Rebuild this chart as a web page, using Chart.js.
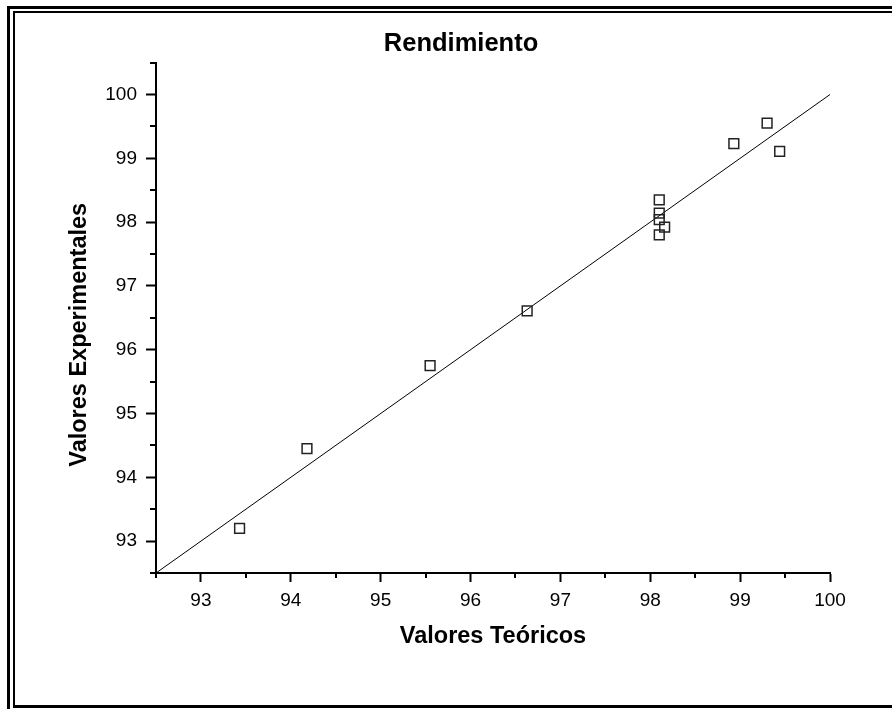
<!DOCTYPE html>
<html>
<head>
<meta charset="utf-8">
<script src="https://cdn.jsdelivr.net/npm/chart.js@4.4.1/dist/chart.umd.min.js"></script>
<style>
html,body{margin:0;padding:0;background:#fff;overflow:hidden;width:892px;height:709px;}
#wrap{position:relative;width:892px;height:709px;overflow:hidden;background:#fff;}
.f1{position:absolute;left:7px;top:6px;width:1200px;height:1200px;border-left:3px solid #000;border-top:3px solid #000;box-sizing:border-box;}
.f2{position:absolute;left:13px;top:11px;width:1200px;height:697px;border-left:2px solid #000;border-top:2px solid #000;border-bottom:3px solid #000;box-sizing:border-box;}
#c{position:absolute;left:0;top:0;}
</style>
</head>
<body>
<div id="wrap">
  <div class="f1"></div>
  <div class="f2"></div>
  <canvas id="c" width="892" height="709"></canvas>
</div>
<script>
// ---- data ----
const teoricos       = [93.43, 94.18, 95.55, 96.63, 98.10, 98.10, 98.10, 98.16, 98.10, 98.93, 99.30, 99.44];
const experimentales = [93.20, 94.45, 95.75, 96.61, 98.35, 98.14, 98.04, 97.92, 97.80, 99.23, 99.55, 99.11];
const lineaX = [92.5, 100];
const lineaY = [92.5, 100];
const xTicks = [93, 94, 95, 96, 97, 98, 99, 100];
const yTicks = [93, 94, 95, 96, 97, 98, 99, 100];
const xMinor = [92.5, 93.5, 94.5, 95.5, 96.5, 97.5, 98.5, 99.5];
const yMinor = [92.5, 93.5, 94.5, 95.5, 96.5, 97.5, 98.5, 99.5, 100.5];

const FONT = "'Liberation Sans', Arial, Helvetica, sans-serif";
const yTitleShift = 17;

const minorTicks = {
  id: 'minorTicks',
  afterDraw(chart) {
    const {ctx, scales} = chart;
    const x = scales.x, y = scales.y;
    ctx.save();
    ctx.strokeStyle = '#000';
    ctx.lineWidth = 2;
    ctx.beginPath();
    xMinor.forEach(v => {
      const px = Math.round(x.getPixelForValue(v));
      ctx.moveTo(px, x.top);
      ctx.lineTo(px, x.top + 5);
    });
    yMinor.forEach(v => {
      const py = Math.round(y.getPixelForValue(v));
      ctx.moveTo(y.right, py);
      ctx.lineTo(y.right - 6, py);
    });
    ctx.stroke();
    ctx.restore();
  }
};

const shiftYTitle = {
  id: 'shiftYTitle',
  afterLayout(chart) {
    const s = chart.scales.y;
    if (s && !s._shiftWrapped) {
      const orig = s.drawTitle;
      s.drawTitle = function (...a) {
        const c = this.ctx;
        c.save();
        c.translate(0, yTitleShift);
        orig.apply(this, a);
        c.restore();
      };
      s._shiftWrapped = true;
    }
  }
};

new Chart(document.getElementById('c'), {
  type: 'scatter',
  data: {
    datasets: [
      {
        label: 'Ajuste',
        data: lineaX.map((x, i) => ({x: x, y: lineaY[i]})),
        showLine: true,
        borderColor: '#000',
        borderWidth: 1,
        pointRadius: 0,
        pointHoverRadius: 0,
        fill: false,
        tension: 0,
        order: 2
      },
      {
        label: 'Rendimiento',
        data: teoricos.map((x, i) => ({x: x, y: experimentales[i]})),
        pointStyle: 'rect',
        pointRadius: 6.9,
        pointHoverRadius: 6.9,
        borderWidth: 1.5,
        borderColor: '#222',
        backgroundColor: 'rgba(0,0,0,0)',
        order: 1
      }
    ]
  },
  options: {
    responsive: false,
    animation: false,
    devicePixelRatio: 1,
    events: [],
    layout: {padding: {left: 30, right: 0, top: 0, bottom: 0}},
    plugins: {
      legend: {display: false},
      tooltip: {enabled: false},
      title: {
        display: true,
        text: 'Rendimiento',
        color: '#000',
        font: {family: FONT, size: 25.5, weight: 'bold', lineHeight: 1.2},
        padding: {top: 29, bottom: 3}
      }
    },
    scales: {
      x: {
        type: 'linear',
        position: 'bottom',
        min: 92.5,
        max: 100,
        afterBuildTicks: s => { s.ticks = xTicks.map(v => ({value: v})); },
        afterFit: s => { s.height = 136; },
        ticks: {color: '#000', font: {family: FONT, size: 19}, padding: 7, maxRotation: 0, autoSkip: false,
                callback: v => String(v)},
        grid: {drawOnChartArea: false, drawTicks: true, tickLength: 9, tickWidth: 2, tickColor: '#000'},
        border: {display: true, color: '#000', width: 2},
        title: {display: true, text: 'Valores Teóricos', color: '#000',
                font: {family: FONT, size: 23.5, weight: 'bold', lineHeight: 1.2}, padding: {top: 0, bottom: 58}}
      },
      y: {
        type: 'linear',
        position: 'left',
        min: 92.5,
        max: 100.5,
        afterBuildTicks: s => { s.ticks = yTicks.map(v => ({value: v})); },
        afterFit: s => { s.width = 126; },
        ticks: {color: '#000', font: {family: FONT, size: 19}, padding: 9, autoSkip: false,
                callback: v => String(v)},
        grid: {drawOnChartArea: false, drawTicks: true, tickLength: 10, tickWidth: 2, tickColor: '#000'},
        border: {display: true, color: '#000', width: 2},
        title: {display: true, text: 'Valores Experimentales', color: '#000',
                font: {family: FONT, size: 23.5, weight: 'bold', lineHeight: 1.2}, padding: {top: 35, bottom: 0}}
      },
      yR: {
        type: 'linear',
        axis: 'y',
        position: 'right',
        display: true,
        afterFit: s => { s.width = 62; },
        grid: {display: false},
        border: {display: false},
        ticks: {display: false},
        title: {display: false}
      }
    }
  },
  plugins: [minorTicks, shiftYTitle]
});
</script>
</body>
</html>
